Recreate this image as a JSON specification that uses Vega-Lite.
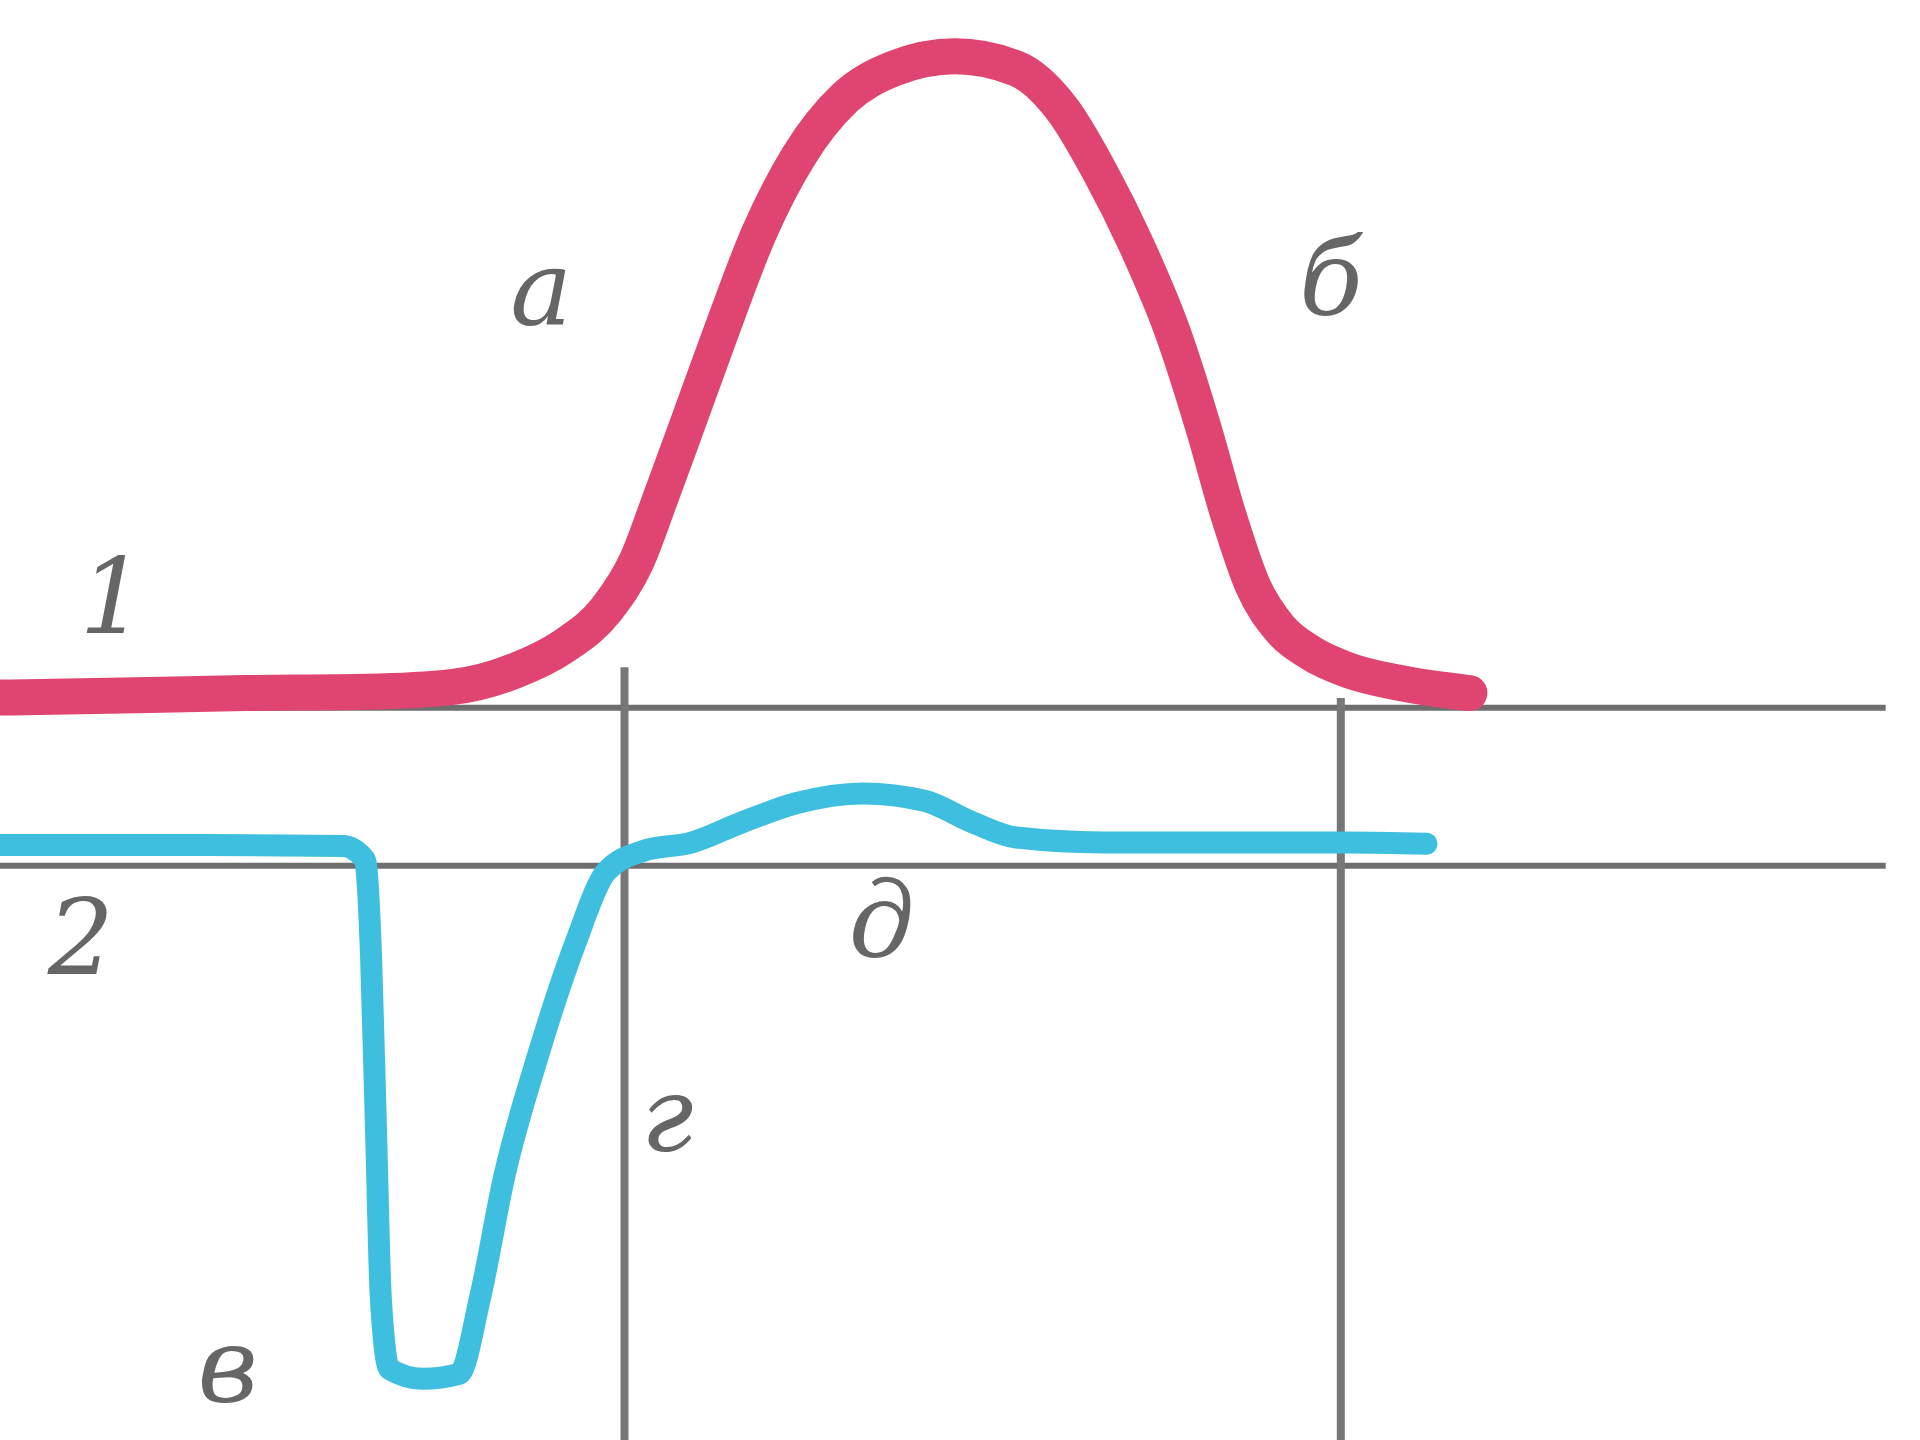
{
  "$schema": "https://vega.github.io/schema/vega-lite/v6.json",
  "width": 1920,
  "height": 1440,
  "autosize": {"type": "none"},
  "padding": 0,
  "background": "white",
  "config": {"view": {"stroke": null}},
  "layer": [
    {
      "data": {"values": [
        {"x": 0, "x2": 1540, "y": 578},
        {"x": 0, "x2": 1540, "y": 707}
      ]},
      "mark": {"type": "rule", "color": "#6e6e6e", "strokeWidth": 6},
      "encoding": {
        "x": {"field": "x", "type": "quantitative", "scale": {"domain": [0, 1568], "nice": false, "zero": false}, "axis": null},
        "x2": {"field": "x2"},
        "y": {"field": "y", "type": "quantitative", "scale": {"domain": [0, 1176], "nice": false, "zero": false, "reverse": true}, "axis": null}
      }
    },
    {
      "data": {"values": [
        {"x": 510, "y": 545, "y2": 1176},
        {"x": 1095, "y": 570, "y2": 1176}
      ]},
      "mark": {"type": "rule", "color": "#777777", "strokeWidth": 8},
      "encoding": {
        "x": {"field": "x", "type": "quantitative"},
        "y": {"field": "y", "type": "quantitative"},
        "y2": {"field": "y2"}
      }
    },
    {
      "data": {"values": [
        {"i": 1, "x": -20, "y": 570}, {"i": 2, "x": 100, "y": 568}, {"i": 3, "x": 200, "y": 566},
        {"i": 4, "x": 300, "y": 565}, {"i": 5, "x": 370, "y": 561}, {"i": 6, "x": 420, "y": 548},
        {"i": 7, "x": 460, "y": 528}, {"i": 8, "x": 495, "y": 498}, {"i": 9, "x": 520, "y": 458},
        {"i": 10, "x": 540, "y": 405}, {"i": 11, "x": 562, "y": 345}, {"i": 12, "x": 590, "y": 268},
        {"i": 13, "x": 620, "y": 190}, {"i": 14, "x": 652, "y": 128}, {"i": 15, "x": 690, "y": 80},
        {"i": 16, "x": 730, "y": 56}, {"i": 17, "x": 780, "y": 46}, {"i": 18, "x": 830, "y": 56},
        {"i": 19, "x": 868, "y": 90}, {"i": 20, "x": 898, "y": 140}, {"i": 21, "x": 928, "y": 200},
        {"i": 22, "x": 958, "y": 272}, {"i": 23, "x": 983, "y": 350}, {"i": 24, "x": 1003, "y": 420},
        {"i": 25, "x": 1023, "y": 478}, {"i": 26, "x": 1045, "y": 513}, {"i": 27, "x": 1070, "y": 533},
        {"i": 28, "x": 1100, "y": 547}, {"i": 29, "x": 1150, "y": 559}, {"i": 30, "x": 1200, "y": 566}
      ]},
      "mark": {"type": "line", "color": "#e04470", "strokeWidth": 36, "interpolate": "monotone", "strokeCap": "round", "strokeJoin": "round"},
      "encoding": {
        "x": {"field": "x", "type": "quantitative"},
        "y": {"field": "y", "type": "quantitative"},
        "order": {"field": "i"}
      }
    },
    {
      "data": {"values": [
        {"i": 1, "x": -20, "y": 690}, {"i": 2, "x": 150, "y": 690}, {"i": 3, "x": 280, "y": 691},
        {"i": 4, "x": 298, "y": 702}, {"i": 5, "x": 303, "y": 780}, {"i": 6, "x": 307, "y": 920},
        {"i": 7, "x": 311, "y": 1060}, {"i": 8, "x": 318, "y": 1118}, {"i": 9, "x": 345, "y": 1126},
        {"i": 10, "x": 375, "y": 1122}, {"i": 11, "x": 392, "y": 1060}, {"i": 12, "x": 412, "y": 960},
        {"i": 13, "x": 440, "y": 860}, {"i": 14, "x": 470, "y": 770}, {"i": 15, "x": 495, "y": 712},
        {"i": 16, "x": 525, "y": 695}, {"i": 17, "x": 565, "y": 688}, {"i": 18, "x": 605, "y": 672},
        {"i": 19, "x": 650, "y": 656}, {"i": 20, "x": 705, "y": 648}, {"i": 21, "x": 755, "y": 654},
        {"i": 22, "x": 795, "y": 672}, {"i": 23, "x": 830, "y": 684}, {"i": 24, "x": 900, "y": 688},
        {"i": 25, "x": 1000, "y": 688}, {"i": 26, "x": 1100, "y": 688}, {"i": 27, "x": 1165, "y": 689}
      ]},
      "mark": {"type": "line", "color": "#3fbfe0", "strokeWidth": 22, "interpolate": "monotone", "strokeCap": "round", "strokeJoin": "round"},
      "encoding": {
        "x": {"field": "x", "type": "quantitative"},
        "y": {"field": "y", "type": "quantitative"},
        "order": {"field": "i"}
      }
    },
    {
      "data": {"values": [
        {"t": "а", "x": 442, "y": 240},
        {"t": "б", "x": 1087, "y": 232},
        {"t": "1", "x": 92, "y": 492},
        {"t": "2", "x": 66, "y": 770},
        {"t": "в", "x": 186, "y": 1120},
        {"t": "г", "x": 545, "y": 915},
        {"t": "д", "x": 720, "y": 756}
      ]},
      "mark": {"type": "text", "font": "DejaVu Serif", "fontStyle": "italic", "fontSize": 104, "color": "#666666", "align": "center", "baseline": "middle"},
      "encoding": {
        "x": {"field": "x", "type": "quantitative"},
        "y": {"field": "y", "type": "quantitative"},
        "text": {"field": "t"}
      }
    }
  ]
}
